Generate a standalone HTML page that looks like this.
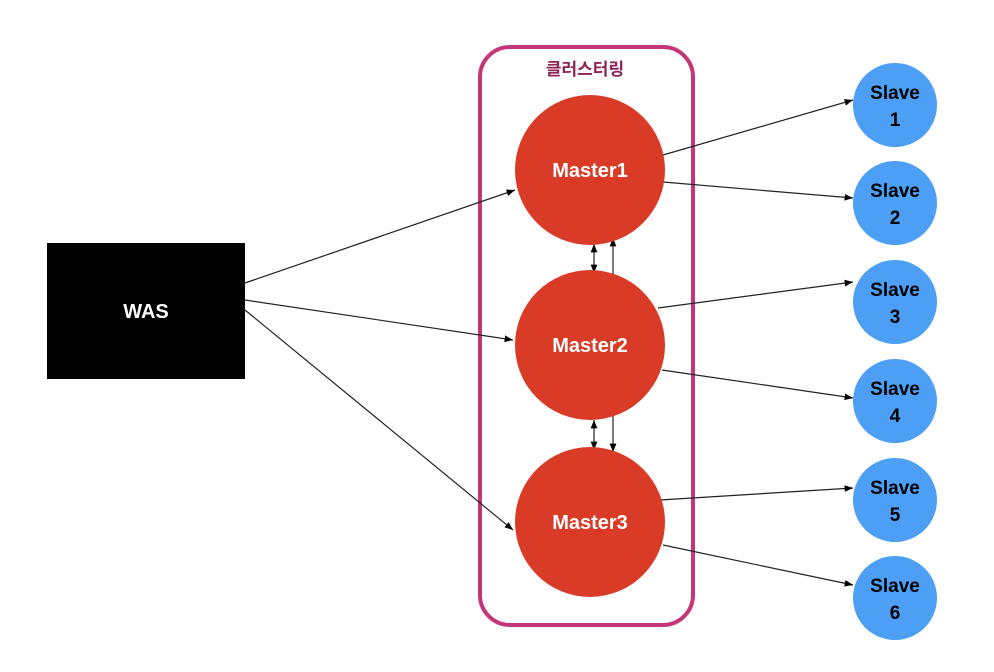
<!DOCTYPE html>
<html><head><meta charset="utf-8">
<style>
html,body{margin:0;padding:0;background:#fff;}
svg{display:block;}
text{font-family:"Liberation Sans","Noto Sans CJK KR",sans-serif;font-weight:bold;}
</style></head>
<body>
<svg width="994" height="672" viewBox="0 0 994 672" xmlns="http://www.w3.org/2000/svg">
<defs>
<marker id="a" viewBox="0 0 10 10" refX="10" refY="5" markerWidth="7" markerHeight="7" orient="auto-start-reverse">
<path d="M0,1 L10,5 L0,9 z" fill="#000"/>
</marker>
</defs>
<rect x="480" y="47" width="213" height="578" rx="30" ry="30" fill="none" stroke="#c4357a" stroke-width="4"/>
<text x="585" y="75" font-size="17" fill="#8e2356" text-anchor="middle">클러스터링</text>

<rect x="47" y="243" width="198" height="136" fill="#000"/>
<text x="146" y="318" font-size="20" fill="#fff" text-anchor="middle">WAS</text>

<g stroke="#222" stroke-width="1.2" fill="none" marker-end="url(#a)">
<line x1="245" y1="283" x2="515" y2="190"/>
<line x1="245" y1="300" x2="513" y2="340"/>
<line x1="245" y1="310" x2="513" y2="530"/>
<line x1="663" y1="155" x2="853" y2="100"/>
<line x1="663" y1="182" x2="853" y2="198"/>
<line x1="658" y1="308" x2="853" y2="282"/>
<line x1="662" y1="370" x2="853" y2="398"/>
<line x1="660" y1="500" x2="853" y2="488"/>
<line x1="663" y1="545" x2="853" y2="585"/>
<line x1="594" y1="244" x2="594" y2="273" marker-start="url(#a)"/>
<line x1="594" y1="420" x2="594" y2="450" marker-start="url(#a)"/>
<line x1="613" y1="238" x2="613" y2="452" marker-start="url(#a)"/>
</g>

<g fill="#d93b27">
<circle cx="590" cy="170" r="75"/>
<circle cx="590" cy="345" r="75"/>
<circle cx="590" cy="522" r="75"/>
</g>
<g font-size="20" fill="#fff" text-anchor="middle">
<text x="590" y="177">Master1</text>
<text x="590" y="352">Master2</text>
<text x="590" y="529">Master3</text>
</g>

<g fill="#4c9ff5">
<circle cx="895" cy="105" r="42"/>
<circle cx="895" cy="203" r="42"/>
<circle cx="895" cy="302" r="42"/>
<circle cx="895" cy="401" r="42"/>
<circle cx="895" cy="500" r="42"/>
<circle cx="895" cy="598" r="42"/>
</g>
<g font-size="19" fill="#000" text-anchor="middle">
<text x="895" y="99">Slave</text><text x="895" y="126">1</text>
<text x="895" y="197">Slave</text><text x="895" y="224">2</text>
<text x="895" y="296">Slave</text><text x="895" y="323">3</text>
<text x="895" y="395">Slave</text><text x="895" y="422">4</text>
<text x="895" y="494">Slave</text><text x="895" y="521">5</text>
<text x="895" y="592">Slave</text><text x="895" y="619">6</text>
</g>
</svg>
</body></html>
